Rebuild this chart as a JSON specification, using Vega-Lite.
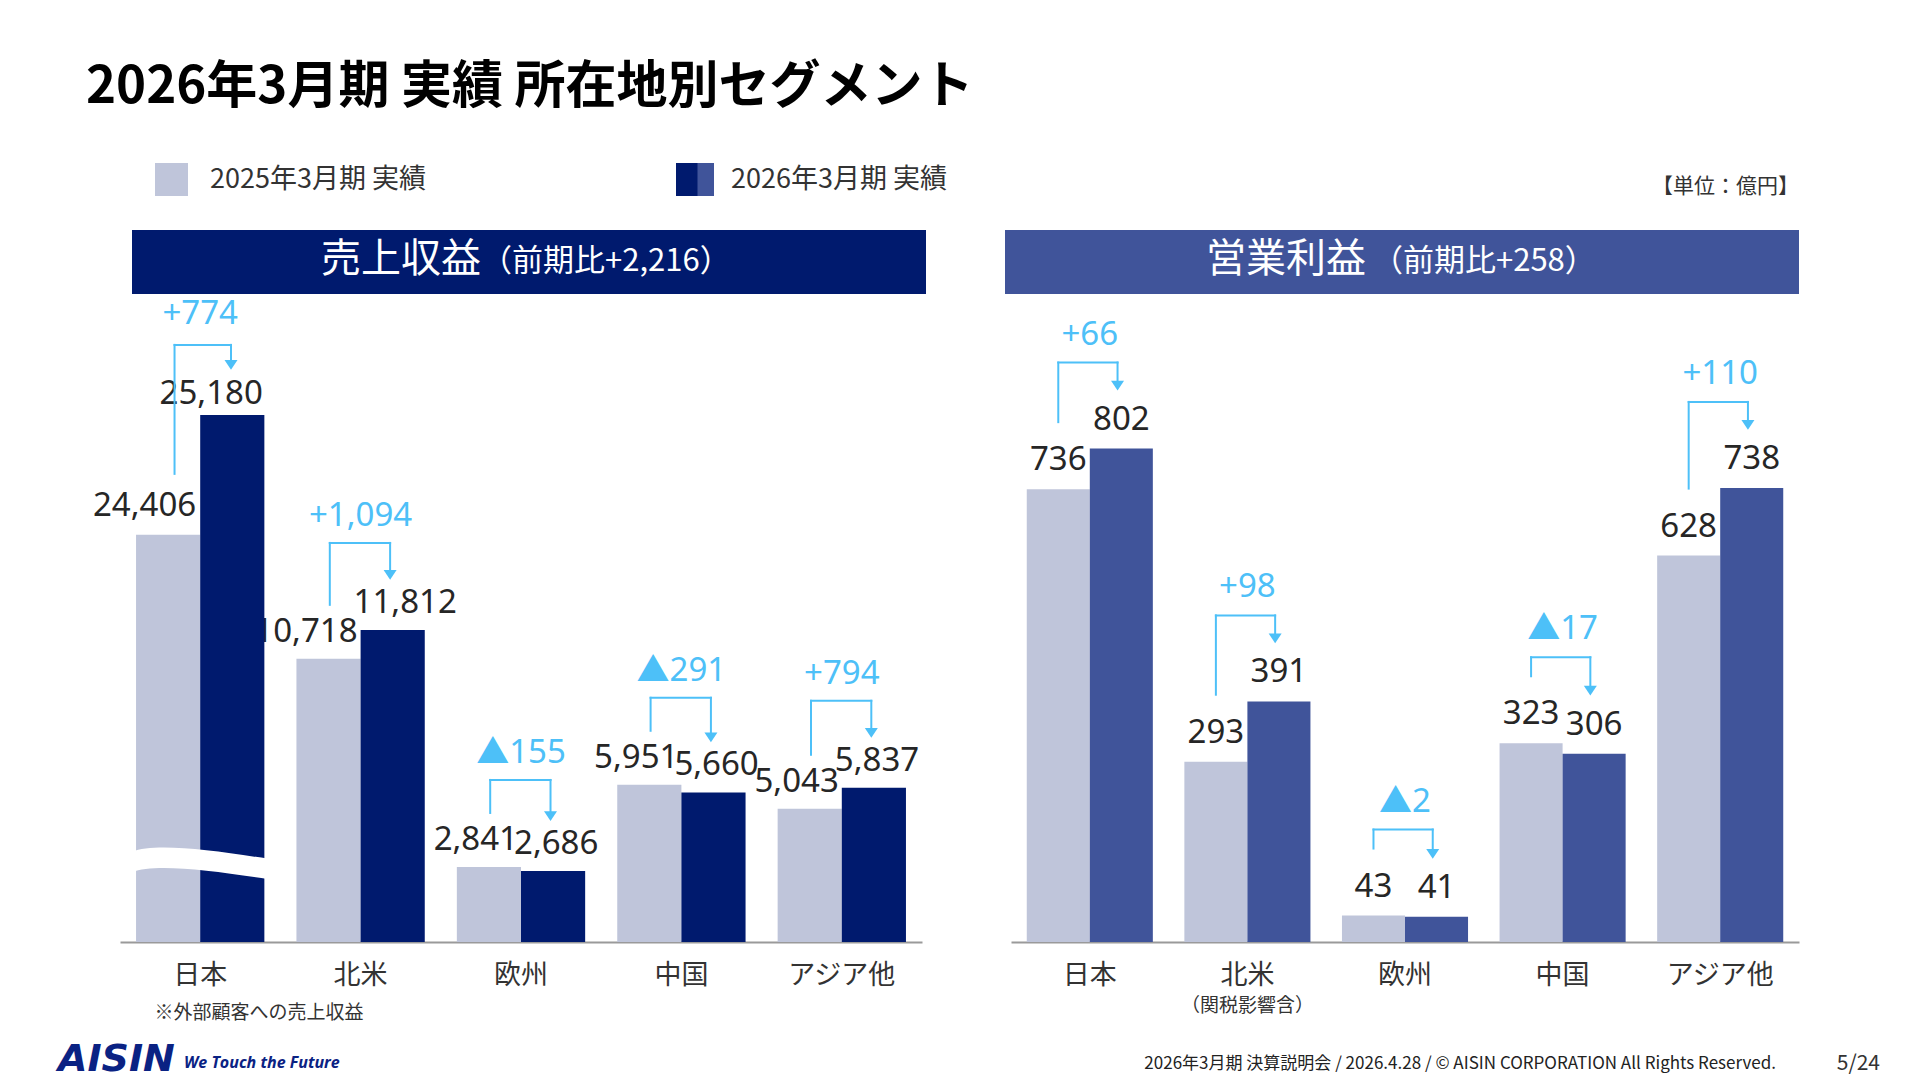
{
  "$schema": "https://vega.github.io/schema/vega-lite/v6.json",
  "width": 1920,
  "height": 942,
  "autosize": {"type": "none"},
  "padding": {"left": 0, "top": 0, "right": 0, "bottom": 138},
  "background": "#ffffff",
  "config": {"view": {"stroke": null}, "font": "Noto Sans CJK JP"},
  "datasets": {
    "revenue": [
      {"region": "日本", "year": "2025年3月期 実績", "value": 24406},
      {"region": "日本", "year": "2026年3月期 実績", "value": 25180, "change": "+774"},
      {"region": "北米", "year": "2025年3月期 実績", "value": 10718},
      {"region": "北米", "year": "2026年3月期 実績", "value": 11812, "change": "+1,094"},
      {"region": "欧州", "year": "2025年3月期 実績", "value": 2841},
      {"region": "欧州", "year": "2026年3月期 実績", "value": 2686, "change": "▲155"},
      {"region": "中国", "year": "2025年3月期 実績", "value": 5951},
      {"region": "中国", "year": "2026年3月期 実績", "value": 5660, "change": "▲291"},
      {"region": "アジア他", "year": "2025年3月期 実績", "value": 5043},
      {"region": "アジア他", "year": "2026年3月期 実績", "value": 5837, "change": "+794"}
    ],
    "profit": [
      {"region": "日本", "year": "2025年3月期 実績", "value": 736},
      {"region": "日本", "year": "2026年3月期 実績", "value": 802, "change": "+66"},
      {"region": "北米", "year": "2025年3月期 実績", "value": 293},
      {"region": "北米", "year": "2026年3月期 実績", "value": 391, "change": "+98"},
      {"region": "欧州", "year": "2025年3月期 実績", "value": 43},
      {"region": "欧州", "year": "2026年3月期 実績", "value": 41, "change": "▲2"},
      {"region": "中国", "year": "2025年3月期 実績", "value": 323},
      {"region": "中国", "year": "2026年3月期 実績", "value": 306, "change": "▲17"},
      {"region": "アジア他", "year": "2025年3月期 実績", "value": 628},
      {"region": "アジア他", "year": "2026年3月期 実績", "value": 738, "change": "+110"}
    ]
  },
  "layer": [
    {
      "data": {"name": "revenue"},
      "encoding": {
        "x": {
          "field": "region", "type": "nominal", "sort": null,
          "scale": {"domain": ["日本", "北米", "欧州", "中国", "アジア他"], "range": [120, 922], "paddingInner": 0.2, "paddingOuter": 0.1},
          "axis": {
            "orient": "bottom",
            "title": "※外部顧客への売上収益", "titleFont": "Noto Sans CJK JP", "titleFontSize": 19, "titleFontWeight": "normal",
            "titleColor": "#333333", "titleAlign": "left", "titleBaseline": "middle", "titleX": 154, "titleY": 70,
            "labelFont": "Noto Sans CJK JP", "labelFontSize": 27, "labelColor": "#333333", "labelPadding": 20, "labelAngle": 0,
            "ticks": false, "grid": false, "domain": true, "domainColor": "#9a9a9a", "domainWidth": 2
          }
        }
      },
      "layer": [
        {
          "transform": [{"filter": "datum.region !== '日本'"}],
          "encoding": {"y": {"field": "value", "type": "quantitative", "scale": {"domain": [0, 35655], "nice": false}, "axis": null}},
          "layer": [
            {
              "mark": {"type": "bar"},
              "encoding": {
                "xOffset": {"field": "year", "type": "nominal", "scale": {"paddingInner": 0, "paddingOuter": 0}},
                "color": {
                  "field": "year", "type": "nominal",
                  "scale": {"domain": ["2025年3月期 実績", "2026年3月期 実績"], "range": ["#BFC5DA", "#001A6E"]},
                  "legend": {"orient": "none", "legendX": 155, "legendY": 163, "direction": "horizontal", "title": null, "symbolType": "square", "symbolSize": 1089, "symbolStrokeWidth": 0, "symbolOpacity": 1, "labelFont": "Noto Sans CJK JP", "labelFontSize": 27, "labelColor": "#333333", "labelOffset": 22, "columnPadding": 250, "padding": 0, "labelLimit": 500}
                }
              }
            },
            {
              "transform": [{"filter": "datum.year === '2025年3月期 実績'"}],
              "mark": {"type": "text", "align": "right", "baseline": "middle", "dx": -3, "dy": -27, "font": "Noto Sans", "fontSize": 33, "color": "#262626"},
              "encoding": {"text": {"field": "value", "type": "quantitative", "format": ","}}
            },
            {
              "transform": [{"filter": "datum.year === '2026年3月期 実績'"}],
              "mark": {"type": "text", "align": "left", "baseline": "middle", "dx": -7, "dy": -27, "font": "Noto Sans", "fontSize": 33, "color": "#262626"},
              "encoding": {"text": {"field": "value", "type": "quantitative", "format": ","}}
            },
            {
              "transform": [{"joinaggregate": [{"op": "max", "field": "value", "as": "peak"}], "groupby": ["region"]}, {"filter": "datum.year === '2025年3月期 実績'"}],
              "mark": {"type": "rule", "color": "#4DC0F8", "strokeWidth": 2, "strokeCap": "square", "yOffset": -54, "y2Offset": -87},
              "encoding": {"x": {"field": "region", "type": "nominal", "sort": null, "bandPosition": 0.26}, "y2": {"field": "peak"}}
            },
            {
              "transform": [{"joinaggregate": [{"op": "max", "field": "value", "as": "peak"}], "groupby": ["region"]}, {"filter": "datum.year === '2025年3月期 実績'"}],
              "mark": {"type": "rule", "color": "#4DC0F8", "strokeWidth": 2, "strokeCap": "square", "yOffset": -87},
              "encoding": {"x": {"field": "region", "type": "nominal", "sort": null, "bandPosition": 0.26}, "x2": {"field": "region", "bandPosition": 0.73}, "y": {"field": "peak", "type": "quantitative"}}
            },
            {
              "transform": [{"joinaggregate": [{"op": "max", "field": "value", "as": "peak"}], "groupby": ["region"]}, {"filter": "datum.year === '2026年3月期 実績'"}],
              "mark": {"type": "rule", "color": "#4DC0F8", "strokeWidth": 2, "strokeCap": "square", "yOffset": -87, "y2Offset": -56},
              "encoding": {"x": {"field": "region", "type": "nominal", "sort": null, "bandPosition": 0.73}, "y": {"field": "peak", "type": "quantitative"}, "y2": {"field": "value"}}
            },
            {
              "transform": [{"filter": "datum.year === '2026年3月期 実績'"}],
              "mark": {"type": "point", "shape": "M -1 -0.75 L 1 -0.75 L 0 0.75 Z", "size": 169, "filled": true, "opacity": 1, "strokeWidth": 0, "color": "#4DC0F8", "yOffset": -55},
              "encoding": {"x": {"field": "region", "type": "nominal", "sort": null, "bandPosition": 0.73}}
            },
            {
              "transform": [{"joinaggregate": [{"op": "max", "field": "value", "as": "peak"}], "groupby": ["region"]}, {"filter": "datum.year === '2026年3月期 実績'"}],
              "mark": {"type": "text", "align": "center", "baseline": "middle", "dy": -114, "font": "Noto Sans, Noto Sans CJK JP", "fontSize": 33, "color": "#4DC0F8"},
              "encoding": {"y": {"field": "peak", "type": "quantitative"}, "text": {"field": "change"}}
            }
          ]
        },
        {
          "transform": [{"filter": "datum.region === '日本'"}],
          "encoding": {"y": {"field": "value", "type": "quantitative", "scale": {"domain": [21780, 27856], "zero": false, "nice": false, "clamp": true}, "axis": null}},
          "layer": [
            {
              "mark": {"type": "bar"},
              "encoding": {
                "xOffset": {"field": "year", "type": "nominal", "scale": {"paddingInner": 0, "paddingOuter": 0}},
                "color": {
                  "field": "year", "type": "nominal",
                  "scale": {"domain": ["2025年3月期 実績", "2026年3月期 実績"], "range": ["#BFC5DA", "#001A6E"]},
                  "legend": {"orient": "none", "legendX": 155, "legendY": 163, "direction": "horizontal", "title": null, "symbolType": "square", "symbolSize": 1089, "symbolStrokeWidth": 0, "symbolOpacity": 1, "labelFont": "Noto Sans CJK JP", "labelFontSize": 27, "labelColor": "#333333", "labelOffset": 22, "columnPadding": 250, "padding": 0, "labelLimit": 500}
                }
              }
            },
            {
              "transform": [{"filter": "datum.year === '2025年3月期 実績'"}],
              "mark": {"type": "point", "shape": "M -1.07 -0.16 C -0.70 -0.30 0.16 -0.19 1.07 -0.05 L 1.07 0.27 C 0.16 0.13 -0.70 0.02 -1.07 0.16 Z", "size": 16384, "filled": true, "opacity": 1, "strokeWidth": 0, "color": "#ffffff"},
              "encoding": {"y": {"datum": 22296, "type": "quantitative"}}
            },
            {
              "transform": [{"filter": "datum.year === '2025年3月期 実績'"}],
              "mark": {"type": "text", "align": "right", "baseline": "middle", "dx": -4, "dy": -29, "font": "Noto Sans", "fontSize": 33, "color": "#262626"},
              "encoding": {"text": {"field": "value", "type": "quantitative", "format": ","}}
            },
            {
              "transform": [{"filter": "datum.year === '2026年3月期 実績'"}],
              "mark": {"type": "text", "align": "center", "baseline": "middle", "dx": 11, "dy": -21, "font": "Noto Sans", "fontSize": 33, "color": "#262626"},
              "encoding": {"text": {"field": "value", "type": "quantitative", "format": ","}}
            },
            {
              "transform": [{"joinaggregate": [{"op": "max", "field": "value", "as": "peak"}], "groupby": ["region"]}, {"filter": "datum.year === '2025年3月期 実績'"}],
              "mark": {"type": "rule", "color": "#4DC0F8", "strokeWidth": 2, "strokeCap": "square", "yOffset": -61, "y2Offset": -70},
              "encoding": {"x": {"field": "region", "type": "nominal", "sort": null, "bandPosition": 0.3}, "y2": {"field": "peak"}}
            },
            {
              "transform": [{"joinaggregate": [{"op": "max", "field": "value", "as": "peak"}], "groupby": ["region"]}, {"filter": "datum.year === '2025年3月期 実績'"}],
              "mark": {"type": "rule", "color": "#4DC0F8", "strokeWidth": 2, "strokeCap": "square", "yOffset": -70},
              "encoding": {"x": {"field": "region", "type": "nominal", "sort": null, "bandPosition": 0.3}, "x2": {"field": "region", "bandPosition": 0.74}, "y": {"field": "peak", "type": "quantitative"}}
            },
            {
              "transform": [{"joinaggregate": [{"op": "max", "field": "value", "as": "peak"}], "groupby": ["region"]}, {"filter": "datum.year === '2026年3月期 実績'"}],
              "mark": {"type": "rule", "color": "#4DC0F8", "strokeWidth": 2, "strokeCap": "square", "yOffset": -70, "y2Offset": -51},
              "encoding": {"x": {"field": "region", "type": "nominal", "sort": null, "bandPosition": 0.74}, "y": {"field": "peak", "type": "quantitative"}, "y2": {"field": "value"}}
            },
            {
              "transform": [{"filter": "datum.year === '2026年3月期 実績'"}],
              "mark": {"type": "point", "shape": "M -1 -0.75 L 1 -0.75 L 0 0.75 Z", "size": 169, "filled": true, "opacity": 1, "strokeWidth": 0, "color": "#4DC0F8", "yOffset": -50},
              "encoding": {"x": {"field": "region", "type": "nominal", "sort": null, "bandPosition": 0.74}}
            },
            {
              "transform": [{"joinaggregate": [{"op": "max", "field": "value", "as": "peak"}], "groupby": ["region"]}, {"filter": "datum.year === '2026年3月期 実績'"}],
              "mark": {"type": "text", "align": "center", "baseline": "middle", "dy": -101, "font": "Noto Sans, Noto Sans CJK JP", "fontSize": 33, "color": "#4DC0F8"},
              "encoding": {"y": {"field": "peak", "type": "quantitative"}, "text": {"field": "change"}}
            }
          ]
        }
      ],
      "resolve": {"scale": {"y": "independent"}, "axis": {"y": "independent"}}
    },
    {
      "data": {"name": "profit"},
      "encoding": {
        "x": {
          "field": "region", "type": "nominal", "sort": null,
          "scale": {"domain": ["日本", "北米", "欧州", "中国", "アジア他"], "range": [1011, 1799], "paddingInner": 0.2, "paddingOuter": 0.1},
          "axis": {
            "orient": "bottom",
            "title": "（関税影響含）", "titleFont": "Noto Sans CJK JP", "titleFontSize": 19, "titleFontWeight": "normal",
            "titleColor": "#333333", "titleAlign": "center", "titleBaseline": "middle", "titleX": 1247, "titleY": 63,
            "labelFont": "Noto Sans CJK JP", "labelFontSize": 27, "labelColor": "#333333", "labelPadding": 20, "labelAngle": 0,
            "ticks": false, "grid": false, "domain": true, "domainColor": "#9a9a9a", "domainWidth": 2
          }
        },
        "y": {"field": "value", "type": "quantitative", "scale": {"domain": [0, 1531], "nice": false}, "axis": null}
      },
      "layer": [
        {
          "mark": {"type": "bar"},
          "encoding": {
            "xOffset": {"field": "year", "type": "nominal", "scale": {"paddingInner": 0, "paddingOuter": 0}},
            "color": {
              "field": "year", "type": "nominal",
              "scale": {"domain": ["2025年3月期 実績", "2026年3月期 実績"], "range": ["#BFC5DA", "#40549A"]},
              "legend": {"orient": "none", "legendX": 681, "legendY": 163, "values": ["2026年3月期 実績"], "title": null, "symbolType": "M 0 -1 L 1 -1 L 1 1 L 0 1 Z", "symbolSize": 1089, "symbolStrokeWidth": 0, "symbolOpacity": 1, "labelExpr": "''", "padding": 0}
            }
          }
        },
        {
          "mark": {"type": "text", "align": "center", "baseline": "middle", "dy": -29, "font": "Noto Sans", "fontSize": 33, "color": "#262626"},
          "encoding": {"xOffset": {"field": "year", "type": "nominal"}, "text": {"field": "value", "type": "quantitative", "format": ","}}
        },
        {
          "transform": [{"joinaggregate": [{"op": "max", "field": "value", "as": "peak"}], "groupby": ["region"]}, {"filter": "datum.year === '2025年3月期 実績'"}],
          "mark": {"type": "rule", "color": "#4DC0F8", "strokeWidth": 2, "strokeCap": "square", "yOffset": -67, "y2Offset": -86},
          "encoding": {"x": {"field": "region", "type": "nominal", "sort": null, "bandPosition": 0.25}, "y2": {"field": "peak"}}
        },
        {
          "transform": [{"joinaggregate": [{"op": "max", "field": "value", "as": "peak"}], "groupby": ["region"]}, {"filter": "datum.year === '2025年3月期 実績'"}],
          "mark": {"type": "rule", "color": "#4DC0F8", "strokeWidth": 2, "strokeCap": "square", "yOffset": -86},
          "encoding": {"x": {"field": "region", "type": "nominal", "sort": null, "bandPosition": 0.25}, "x2": {"field": "region", "bandPosition": 0.72}, "y": {"field": "peak", "type": "quantitative"}}
        },
        {
          "transform": [{"joinaggregate": [{"op": "max", "field": "value", "as": "peak"}], "groupby": ["region"]}, {"filter": "datum.year === '2026年3月期 実績'"}],
          "mark": {"type": "rule", "color": "#4DC0F8", "strokeWidth": 2, "strokeCap": "square", "yOffset": -86, "y2Offset": -64},
          "encoding": {"x": {"field": "region", "type": "nominal", "sort": null, "bandPosition": 0.72}, "y": {"field": "peak", "type": "quantitative"}, "y2": {"field": "value"}}
        },
        {
          "transform": [{"filter": "datum.year === '2026年3月期 実績'"}],
          "mark": {"type": "point", "shape": "M -1 -0.75 L 1 -0.75 L 0 0.75 Z", "size": 169, "filled": true, "opacity": 1, "strokeWidth": 0, "color": "#4DC0F8", "yOffset": -63},
          "encoding": {"x": {"field": "region", "type": "nominal", "sort": null, "bandPosition": 0.72}}
        },
        {
          "transform": [{"joinaggregate": [{"op": "max", "field": "value", "as": "peak"}], "groupby": ["region"]}, {"filter": "datum.year === '2026年3月期 実績'"}],
          "mark": {"type": "text", "align": "center", "baseline": "middle", "dy": -114, "font": "Noto Sans, Noto Sans CJK JP", "fontSize": 33, "color": "#4DC0F8"},
          "encoding": {"y": {"field": "peak", "type": "quantitative"}, "text": {"field": "change"}}
        }
      ]
    },
    {
      "data": {"values": [{"label": "2026年3月期 実績 所在地別セグメント"}]},
      "mark": {"type": "text", "align": "left", "baseline": "alphabetic", "font": "Noto Sans CJK JP", "fontSize": 51, "fontWeight": "bold", "color": "#000000"},
      "encoding": {"text": {"field": "label"}, "x": {"value": 86}, "y": {"value": 103}}
    },
    {
      "data": {"values": [{"label": "【単位：億円】"}]},
      "mark": {"type": "text", "align": "right", "baseline": "middle", "font": "Noto Sans CJK JP", "fontSize": 21, "color": "#333333"},
      "encoding": {"text": {"field": "label"}, "x": {"value": 1799}, "y": {"value": 187}}
    },
    {
      "data": {"values": [{"panel": "売上収益"}]},
      "mark": {"type": "rect", "color": "#001A6E"},
      "encoding": {"x": {"value": 132}, "x2": {"value": 926}, "y": {"value": 230}, "y2": {"value": 294}}
    },
    {
      "data": {"values": [{"panel": "営業利益"}]},
      "mark": {"type": "rect", "color": "#40549A"},
      "encoding": {"x": {"value": 1005}, "x2": {"value": 1799}, "y": {"value": 230}, "y2": {"value": 294}}
    },
    {
      "data": {"values": [{"label": "売上収益"}]},
      "mark": {"type": "text", "align": "right", "baseline": "middle", "font": "Noto Sans CJK JP", "fontSize": 40, "color": "#ffffff"},
      "encoding": {"text": {"field": "label"}, "x": {"value": 481}, "y": {"value": 260}}
    },
    {
      "data": {"values": [{"label": "（前期比+2,216）"}]},
      "mark": {"type": "text", "align": "left", "baseline": "middle", "font": "Noto Sans CJK JP", "fontSize": 31, "color": "#ffffff"},
      "encoding": {"text": {"field": "label"}, "x": {"value": 481}, "y": {"value": 262}}
    },
    {
      "data": {"values": [{"label": "営業利益"}]},
      "mark": {"type": "text", "align": "right", "baseline": "middle", "font": "Noto Sans CJK JP", "fontSize": 40, "color": "#ffffff"},
      "encoding": {"text": {"field": "label"}, "x": {"value": 1366}, "y": {"value": 260}}
    },
    {
      "data": {"values": [{"label": "（前期比+258）"}]},
      "mark": {"type": "text", "align": "left", "baseline": "middle", "font": "Noto Sans CJK JP", "fontSize": 31, "color": "#ffffff"},
      "encoding": {"text": {"field": "label"}, "x": {"value": 1372}, "y": {"value": 262}}
    },
    {
      "data": {"values": [{"label": "AISIN"}]},
      "mark": {"type": "text", "align": "left", "baseline": "alphabetic", "font": "DejaVu Sans", "fontSize": 38, "fontWeight": "bold", "fontStyle": "italic", "color": "#0A2283"},
      "encoding": {"text": {"field": "label"}, "x": {"value": 58}, "y": {"value": 1071}}
    },
    {
      "data": {"values": [{"label": "We Touch the Future"}]},
      "mark": {"type": "text", "align": "left", "baseline": "alphabetic", "font": "Open Sans", "fontSize": 16, "fontWeight": "bold", "fontStyle": "italic", "color": "#0A2283"},
      "encoding": {"text": {"field": "label"}, "x": {"value": 184}, "y": {"value": 1068}}
    },
    {
      "data": {"values": [{"label": "2026年3月期 決算説明会 / 2026.4.28 / © AISIN CORPORATION All Rights Reserved."}]},
      "mark": {"type": "text", "align": "right", "baseline": "alphabetic", "font": "Noto Sans CJK JP", "fontSize": 17, "color": "#222222"},
      "encoding": {"text": {"field": "label"}, "x": {"value": 1776}, "y": {"value": 1069}}
    },
    {
      "data": {"values": [{"label": "5/24"}]},
      "mark": {"type": "text", "align": "right", "baseline": "alphabetic", "font": "Noto Sans CJK JP", "fontSize": 21, "color": "#333333"},
      "encoding": {"text": {"field": "label"}, "x": {"value": 1880}, "y": {"value": 1070}}
    }
  ],
  "resolve": {
    "scale": {"x": "independent", "y": "independent", "color": "independent", "xOffset": "independent"},
    "axis": {"x": "independent", "y": "independent"},
    "legend": {"color": "independent"}
  }
}
